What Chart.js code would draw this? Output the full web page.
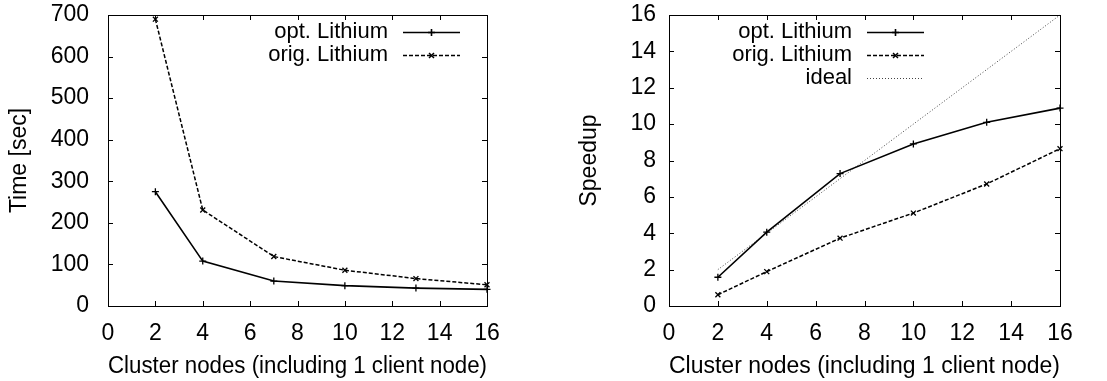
<!DOCTYPE html>
<html>
<head>
<meta charset="utf-8">
<script src="https://cdn.jsdelivr.net/npm/chart.js@4/dist/chart.umd.min.js"></script>
<style>
  html, body { margin: 0; padding: 0; background: #fff; }
  #wrap { position: relative; width: 1107px; height: 381px; }
  canvas { position: absolute; top: 0; }
</style>
</head>
<body>
<div id="wrap">
  <canvas id="timeChart" width="553" height="381" style="left:0"></canvas>
  <canvas id="speedChart" width="554" height="381" style="left:553px"></canvas>
</div>
<script>
// cluster nodes (x values)
const nodes = [2, 4, 7, 10, 13, 16];
// execution time in seconds
const timeOpt = [275, 108, 60, 49, 43, 40];
const timeOrig = [690, 231, 119, 86, 66, 51];
// speedup
const speedOpt = [1.58, 4.06, 7.28, 8.91, 10.1, 10.88];
const speedOrig = [0.62, 1.89, 3.73, 5.11, 6.71, 8.65];
const speedIdeal = [2, 4, 7, 10, 13, 16];

const xTitle = "Cluster nodes (including 1 client node)";
const FONT = "'Liberation Sans', Arial, sans-serif";
const FS = 23;     // axis text
const KEY_FS = 22; // key text

function pts(ys) {
    return nodes.map((x, i) => ({ x: x, y: ys[i] }));
}

// gnuplot-ish frame, inward ticks and key
const gnuplotFrame = {
    id: "gnuplotFrame",
    afterDraw(chart, args, opts) {
        const ctx = chart.ctx;
        const a = chart.chartArea;
        ctx.save();
        ctx.strokeStyle = "#000";
        ctx.lineWidth = 1;
        ctx.strokeRect(a.left + 0.5, a.top + 0.5, a.right - a.left, a.bottom - a.top);
        const tl = 5;
        const xs = chart.scales.x, ys = chart.scales.y;
        ctx.beginPath();
        xs.ticks.forEach(t => {
            const px = Math.round(xs.getPixelForValue(t.value)) + 0.5;
            ctx.moveTo(px, a.bottom); ctx.lineTo(px, a.bottom - tl);
            ctx.moveTo(px, a.top); ctx.lineTo(px, a.top + tl);
        });
        ys.ticks.forEach(t => {
            const py = Math.round(ys.getPixelForValue(t.value)) + 0.5;
            ctx.moveTo(a.left, py); ctx.lineTo(a.left + tl, py);
            ctx.moveTo(a.right, py); ctx.lineTo(a.right - tl, py);
        });
        ctx.stroke();

        // key: text right aligned, sample line to the right
        ctx.font = KEY_FS + "px " + FONT;
        ctx.textAlign = "right";
        ctx.textBaseline = "middle";
        chart.data.datasets.forEach((ds, i) => {
            const y = a.top + 17 + i * 23;
            ctx.fillStyle = "#000";
            ctx.fillText(ds.label, a.right - opts.textRight, y);
            const x0 = a.right - opts.lineFrom, x1 = a.right - opts.lineTo;
            ctx.strokeStyle = ds.borderColor;
            ctx.lineWidth = ds.borderWidth;
            ctx.setLineDash(ds.borderDash || []);
            ctx.beginPath();
            ctx.moveTo(x0, y + 0.5); ctx.lineTo(x1, y + 0.5);
            ctx.stroke();
            ctx.setLineDash([]);
            if (ds.pointRadius > 0) {
                Chart.helpers.drawPoint(ctx, {
                    pointStyle: ds.pointStyle, radius: ds.pointRadius,
                    borderWidth: 1.3
                }, (x0 + x1) / 2, y + 0.5);
            }
        });
        ctx.restore();
    }
};

function makeOptions(yTitle, yMax, yStep, yWidth, padRight, titlePad, labelPad, keyOpts) {
    return {
        responsive: false,
        animation: false,
        layout: { padding: { top: 15, right: padRight, bottom: 0, left: 0 } },
        plugins: {
            legend: { display: false },
            tooltip: { enabled: false },
            gnuplotFrame: keyOpts
        },
        scales: {
            x: {
                type: "linear", min: 0, max: 16,
                ticks: { stepSize: 2, color: "#000", padding: 6, maxRotation: 0, font: { size: FS, family: FONT } },
                grid: { display: false },
                border: { display: false },
                title: { display: true, text: xTitle, color: "#000", padding: { top: 0, bottom: 1 }, font: { size: FS, family: FONT } },
                afterFit: s => { s.height = 75; s.paddingLeft = 0; s.paddingRight = 0; }
            },
            y: {
                min: 0, max: yMax,
                ticks: { stepSize: yStep, color: "#000", padding: labelPad, font: { size: FS, family: FONT } },
                grid: { display: false },
                border: { display: false },
                title: { display: true, text: yTitle, color: "#000", padding: { top: titlePad, bottom: 0 }, font: { size: FS, family: FONT } },
                afterFit: s => { s.width = yWidth; s.paddingTop = 0; s.paddingBottom = 0; }
            }
        }
    };
}

function lineSet(label, ys, dash, style, color, width) {
    return {
        label: label,
        data: pts(ys),
        borderColor: color,
        backgroundColor: color,
        borderWidth: width,
        borderDash: dash,
        pointStyle: style,
        pointRadius: style ? 3.5 : 0,
        pointBorderWidth: 1.3,
        tension: 0,
        fill: false,
        clip: false
    };
}

new Chart(document.getElementById("timeChart"), {
    type: "line",
    data: {
        datasets: [
            lineSet("opt. Lithium", timeOpt, [], "cross", "#000", 1.6),
            lineSet("orig. Lithium", timeOrig, [4, 2], "crossRot", "#000", 1.5)
        ]
    },
    options: makeOptions("Time [sec]", 700, 100, 108, 66, 6, 11, { textRight: 99, lineFrom: 84, lineTo: 27 }),
    plugins: [gnuplotFrame]
});

new Chart(document.getElementById("speedChart"), {
    type: "line",
    data: {
        datasets: [
            lineSet("opt. Lithium", speedOpt, [], "cross", "#000", 1.6),
            lineSet("orig. Lithium", speedOrig, [4, 2], "crossRot", "#000", 1.5),
            lineSet("ideal", speedIdeal, [1, 2], false, "#444", 1)
        ]
    },
    options: makeOptions("Speedup", 16, 2, 116, 47, 23, 5, { textRight: 208, lineFrom: 193, lineTo: 136 }),
    plugins: [gnuplotFrame]
});
</script>
</body>
</html>
